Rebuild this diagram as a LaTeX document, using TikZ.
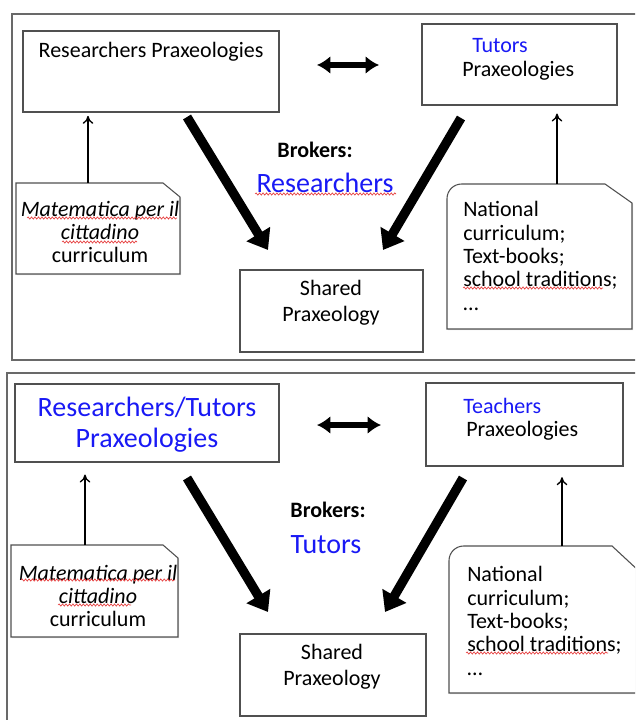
\documentclass[tikz,border=0pt]{standalone}
\usepackage{fontspec}
\setmainfont{Carlito}
\usetikzlibrary{arrows.meta,fit,decorations.pathmorphing,shadows}
\definecolor{myblue}{RGB}{25,25,245}
\definecolor{framecol}{RGB}{105,105,105}
\definecolor{boxline}{RGB}{80,80,80}
\definecolor{squigred}{RGB}{230,60,60}
\newcommand\fsA{\fontsize{16.5}{18.5}\selectfont}
\newcommand\fsM{\fontsize{16.5}{17}\selectfont}
\newcommand\fsN{\fontsize{16.5}{17.5}\selectfont}
\newcommand\fsS{\fontsize{16.5}{19.5}\selectfont}
\newcommand\fsB{\fontsize{21}{23}\selectfont}
\begin{document}
\begin{tikzpicture}[x=0.75pt,y=-0.75pt,
  box/.style={draw=boxline,line width=0.8pt,inner sep=0pt,fill=white,
    drop shadow={shadow xshift=0.8pt,shadow yshift=-0.8pt,opacity=0.25}},
  shapebox/.style={draw=boxline,line width=0.8pt,fill=white,
    drop shadow={shadow xshift=0.8pt,shadow yshift=-0.8pt,opacity=0.25}},
  frm/.style={draw=framecol,line width=0.8pt},
  txt/.style={inner sep=0pt,font=\fsA},
  bigblue/.style={inner sep=0pt,font=\fsB,text=myblue},
  fatarrow/.style={line width=7pt,-{Triangle[length=14pt,width=20pt]}},
  dblarrow/.style={line width=4pt,{Latex[length=10pt,width=13.5pt]}-{Latex[length=10pt,width=13.5pt]}},
  uparrow/.style={line width=1pt,-{To[length=6pt,width=8pt]}},
  squig/.style={draw=squigred,line width=0.5pt,decorate,
    decoration={snake,amplitude=0.8pt,segment length=2.6pt}}]
\useasboundingbox (0,0) rectangle (635,720);
\clip (0,0) rectangle (635,720);
\fill[white] (0,0) rectangle (635,720);

% ================= TOP PANEL =================
\draw[frm] (12,14) rectangle (660,360);

\node[box,fit={(23,31) (279,112)}] (rp1) {};
\node[box,fit={(422,24) (617,105)}] (tu1) {};
\node[box,fit={(240,270) (423,352)}] (sh1) {};

\draw[shapebox] (16,183) -- (163,183) -- (180,197) -- (180,274) -- (16,274) -- cycle;
\coordinate (mat1top) at (88,183);
\draw[shapebox] (447,329) [rounded corners=11pt] -- (447,184) [sharp corners] -- (605,184) -- (632,203) -- (632,329) -- cycle;
\coordinate (nat1top) at (557,184);

\node[txt] (rpt1) at (151,52) {Researchers Praxeologies};
\node[txt,text=myblue,anchor=west] (tut1) at (472,46) {Tutors};
\node[txt,anchor=west] (tup1) at (462,71) {Praxeologies};
\node[txt,font=\fsA\bfseries] (bk1) at (315,150) {Brokers:};
\node[bigblue] (br1) at (325,183) {Researchers};
\node[txt,font=\fsM,align=center] (mt1) at (100,232) {\textit{Matematica per il}\\\textit{cittadino}\\curriculum};
\node[txt,font=\fsS,align=center] (sp1) at (331,303) {Shared\\Praxeology};
\node[txt,font=\fsN,align=left,anchor=west] (nc1) at (463,256) {National\\curriculum;\\Text-books;\\school traditions;\\…};

\coordinate (d1a) at (317,65);
\coordinate (d1b) at (379,65);
\draw[dblarrow] (d1a) -- (d1b);
\coordinate (f1s) at (187,117);
\coordinate (f1e) at (268,250);
\coordinate (f2s) at (461,118);
\coordinate (f2e) at (383,250);
\draw[fatarrow] (f1s) -- (f1e);
\draw[fatarrow] (f2s) -- (f2e);
\draw[uparrow,shorten >=2.5pt] (mat1top) -- (mat1top |- rp1.south);
\draw[uparrow,shorten >=6pt] (nat1top) -- (nat1top |- tu1.south);

\draw[squig] (27,218) -- (177,218);
\draw[squig] (62,242) -- (137,242);
\draw[squig] (255,194) -- (396,194);
\draw[squig] (463,288) -- (603,288);

% ================= BOTTOM PANEL =================
\draw[frm] (7,373) rectangle (660,740);

\node[box,fit={(15,384) (279,462)}] (rp2) {};
\node[box,fit={(426,383) (623,466)}] (te2) {};
\node[box,fit={(240,634) (426,716)}] (sh2) {};

\draw[shapebox] (11,545) -- (163,545) -- (178,558) -- (178,637) -- (11,637) -- cycle;
\coordinate (mat2top) at (85,545);
\draw[shapebox] (449,693) [rounded corners=11pt] -- (449,546) [sharp corners] -- (612,546) -- (640,572) -- (640,693) -- cycle;
\coordinate (nat2top) at (562,546);

\node[bigblue,align=center,font=\fontsize{21}{23.5}\selectfont] (rt2) at (147,425) {Researchers/Tutors\\Praxeologies};
\node[txt,text=myblue,anchor=west] (tea2) at (463,406) {Teachers};
\node[txt,anchor=west] (tep2) at (466,431) {Praxeologies};
\node[txt,font=\fsA\bfseries] (bk2) at (328,510) {Brokers:};
\node[bigblue] (bt2) at (326,545) {Tutors};
\node[txt,font=\fsM,align=center] (mt2) at (98,596) {\textit{Matematica per il}\\\textit{cittadino}\\curriculum};
\node[txt,font=\fsS,align=center] (sp2) at (332,667) {Shared\\Praxeology};
\node[txt,font=\fsN,align=left,anchor=west] (nc2) at (467,621) {National\\curriculum;\\Text-books;\\school traditions;\\…};

\coordinate (d2a) at (317,425);
\coordinate (d2b) at (381,425);
\draw[dblarrow] (d2a) -- (d2b);
\coordinate (f3s) at (187,478);
\coordinate (f3e) at (268,612);
\coordinate (f4s) at (463,478);
\coordinate (f4e) at (385,612);
\draw[fatarrow] (f3s) -- (f3e);
\draw[fatarrow] (f4s) -- (f4e);
\draw[uparrow,shorten >=9pt] (mat2top) -- (mat2top |- rp2.south);
\draw[uparrow,shorten >=8pt] (nat2top) -- (nat2top |- te2.south);

\draw[squig] (21,580) -- (175,580);
\draw[squig] (58,605) -- (131,605);
\draw[squig] (466,653) -- (608,653);
\end{tikzpicture}
\end{document}
